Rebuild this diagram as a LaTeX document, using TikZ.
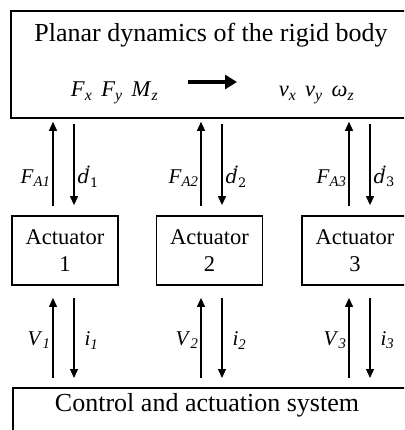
\documentclass[tikz,border=0pt]{standalone}
\usepackage{fontspec}
\setmainfont{Liberation Serif}
\newfontfamily\dvserif{DejaVu Serif}
\usetikzlibrary{positioning, arrows.meta}

\newcommand{\itsub}[2]{\textit{#1}\textsubscript{\textit{#2}}}
\newcommand{\dotd}[1]{{\dvserif\itshape ḋ}\kern0.02em\raisebox{-0.18em}{\fontsize{13}{13}\dvserif #1}}

\tikzset{
  blk/.style={draw, line width=1.8pt, rectangle, inner sep=0pt},
  actbox/.style={blk, minimum width=106pt, minimum height=69pt, align=center,
    font=\fontsize{22.5}{27}\selectfont},
  sig/.style={-{Triangle[length=9pt,width=8pt]}, line width=1.2pt},
  lbl/.style={inner sep=2pt, font=\fontsize{21}{24}\selectfont},
  dlbl/.style={inner sep=3pt, font=\fontsize{19}{22}\selectfont},
  txt/.style={anchor=base, inner sep=0pt, font=\fontsize{26}{29}\selectfont},
  vars/.style={anchor=base, inner sep=0pt, font=\fontsize{22.5}{25}\selectfont},
}

\begin{document}
\begin{tikzpicture}[x=1pt, y=-1pt]
  \useasboundingbox (0,0) rectangle (404,430);
  \clip (0,0) rectangle (404,430);

  % rigid body
  \node[blk, minimum width=402pt, minimum height=107pt, anchor=north west] (body) at (10,10) {};
  \node[txt] (title) at (211,42) {Planar dynamics of the rigid body};
  \node[vars] (forces) at (114.5,97)
    {\itsub{F}{x}\hspace{0.4em}\itsub{F}{y}\hspace{0.4em}\itsub{M}{z}};
  \node[vars] (vels) at (316.5,97)
    {\itsub{v}{x}\hspace{0.4em}\itsub{v}{y}\hspace{0.4em}\itsub{ω}{z}};
  \coordinate (bs) at (188,82);
  \coordinate (be) at (237,82);
  \draw[-{Triangle[length=12pt,width=14pt]}, line width=4pt] (bs) -- (be);

  % actuators
  \node[actbox] (act1) at (65,250.5) {Actuator\\1};
  \node[actbox] (act2) at (209.5,250.5) {Actuator\\2};
  \node[actbox] (act3) at (355,250.5) {Actuator\\3};

  % control
  \node[blk, minimum width=400pt, minimum height=60pt, anchor=north west] (ctrl) at (12,387) {};
  \node[txt] (ctrltxt) at (207,411) {Control and actuation system};

  % signals
  \foreach \i/\u/\d in {1/-12/9, 2/-8.5/12.5, 3/-6/15} {
    \draw[sig, shorten <=9pt, shorten >=3pt] ([xshift=\u pt]act\i.north) -- ([xshift=\u pt]act\i.north |- body.south)
      node[lbl, pos=0.38, left] (fa\i) {\itsub{F}{A\i}};
    \draw[sig, shorten <=5pt, shorten >=10pt] ([xshift=\d pt]act\i.north |- body.south) -- ([xshift=\d pt]act\i.north)
      node[dlbl, pos=0.6, right] (dd\i) {\dotd{\i}};
    \draw[sig, shorten <=9pt, shorten >=12pt] ([xshift=\u pt]act\i.south |- ctrl.north) -- ([xshift=\u pt]act\i.south)
      node[lbl, pos=0.46, left] (v\i) {\itsub{V}{\i}};
    \draw[sig, shorten <=12pt, shorten >=9pt] ([xshift=\d pt]act\i.south) -- ([xshift=\d pt]act\i.south |- ctrl.north)
      node[lbl, pos=0.54, right, xshift=8pt] (cur\i) {\itsub{i}{\i}};
  }
\end{tikzpicture}
\end{document}
